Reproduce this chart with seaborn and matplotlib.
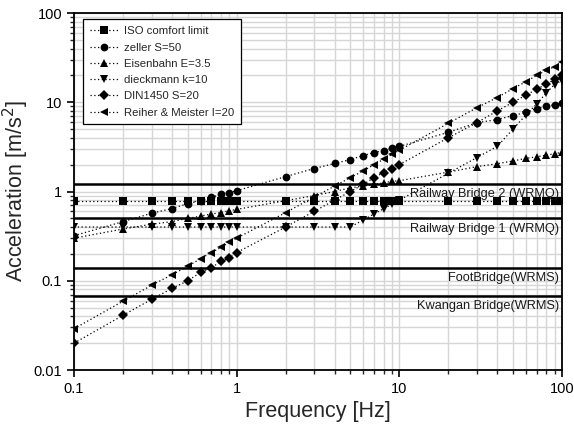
import numpy as np
import pandas as pd
import matplotlib
matplotlib.use("Agg")
import matplotlib.pyplot as plt
import matplotlib.ticker as mticker
import seaborn as sns

# frequencies [Hz]
freq = [0.1, 0.2, 0.3, 0.4, 0.5, 0.6, 0.7, 0.8, 0.9,
        1, 2, 3, 4, 5, 6, 7, 8, 9,
        10, 20, 30, 40, 50, 60, 70, 80, 90, 100]

# acceleration [m/s^2]
iso_comfort = [0.79] * 28
zeller = [0.32, 0.46, 0.57, 0.645, 0.73, 0.79, 0.86, 0.93, 0.97,
          1.02, 1.47, 1.81, 2.06, 2.28, 2.53, 2.73, 2.88, 3.04,
          3.2, 4.6, 5.9, 6.4, 7.1, 7.7, 8.5, 9.0, 9.4, 9.9]
eisenbahn = [0.30, 0.38, 0.43, 0.46, 0.50, 0.53, 0.56, 0.58, 0.61,
             0.63, 0.79, 0.90, 1.0, 1.1, 1.15, 1.2, 1.25, 1.3,
             1.32, 1.65, 1.9, 2.05, 2.2, 2.35, 2.45, 2.55, 2.65, 2.75]
dieckmann = [0.4, 0.4, 0.4, 0.4, 0.4, 0.4, 0.4, 0.4, 0.4,
             0.4, 0.4, 0.4, 0.4, 0.4, 0.48, 0.56, 0.64, 0.72,
             0.8, 1.6, 2.4, 3.2, 5.0, 7.2, 9.6, 12.7, 15.8, 17.5]
din1450 = [0.02, 0.041, 0.062, 0.082, 0.10, 0.124, 0.14, 0.165, 0.18,
           0.207, 0.40, 0.60, 0.80, 1.0, 1.2, 1.43, 1.63, 1.8,
           2.0, 4.0, 5.9, 8.0, 10, 12, 14, 16, 18, 20]
reiher = [0.029, 0.059, 0.089, 0.117, 0.145, 0.177, 0.207, 0.236, 0.27,
          0.30, 0.58, 0.87, 1.15, 1.43, 1.7, 2.0, 2.3, 2.6,
          2.9, 5.8, 8.7, 11.3, 14.2, 17, 20, 22.7, 25, 28.5]

series_names = ["ISO comfort limit", "zeller S=50", "Eisenbahn E=3.5",
                "dieckmann k=10", "DIN1450 S=20", "Reiher & Meister I=20"]
series_values = [iso_comfort, zeller, eisenbahn, dieckmann, din1450, reiher]
series_markers = ["s", "o", "^", "v", "D", "<"]

# bridge reference levels
bridge_names = ["Railway Bridge 2 (WRMQ)", "Railway Bridge 1 (WRMQ)",
                "FootBridge(WRMS)", "Kwangan Bridge(WRMS)"]
bridge_levels = [1.22, 0.5, 0.14, 0.067]

sns.set_style("ticks")
plt.rcParams['font.family'] = ['Liberation Sans', 'DejaVu Sans']

fig = plt.figure(figsize=(5.74, 4.25), dpi=100)
ax = fig.add_axes([0.129, 0.1294, 0.850, 0.840])
ax.set_xscale("log")
ax.set_yscale("log")

for name, vals, mk in zip(series_names, series_values, series_markers):
    df = pd.DataFrame({"Frequency": freq, "Acceleration": vals})
    ms = 4.8 if mk == "D" else 5.6
    sns.lineplot(data=df, x="Frequency", y="Acceleration", ax=ax,
                 color="black", linestyle=(0, (1, 2)), linewidth=0.9,
                 marker=mk, markersize=ms, markeredgewidth=0,
                 label=name, zorder=5, clip_on=True)

for name, lvl in zip(bridge_names, bridge_levels):
    ax.axhline(lvl, color="black", linewidth=1.8, zorder=4)
    ax.annotate(name, xy=(100, lvl), xytext=(-2, -3), textcoords="offset points",
                ha="right", va="top", fontsize=9.2, color="#1a1a1a", zorder=6)

ax.set_xlim(0.1, 100)
ax.set_ylim(0.01, 100)

fmt = mticker.FuncFormatter(lambda v, pos: f"{v:g}")
ax.xaxis.set_major_formatter(fmt)
ax.yaxis.set_major_formatter(fmt)
ax.xaxis.set_minor_formatter(mticker.NullFormatter())
ax.yaxis.set_minor_formatter(mticker.NullFormatter())
ax.xaxis.set_minor_locator(mticker.LogLocator(base=10, subs=np.arange(2, 10)))
ax.yaxis.set_minor_locator(mticker.LogLocator(base=10, subs=np.arange(2, 10)))

ax.grid(which="both", color="#d6d6d6", linewidth=1.0, zorder=0)
ax.set_axisbelow(True)
ax.tick_params(which="major", direction="out", length=5, width=1.2, labelsize=10.5,
               colors="black")
ax.tick_params(which="minor", direction="out", length=3, width=1.0)
for sp in ax.spines.values():
    sp.set_color("black")
    sp.set_linewidth(1.3)

ax.set_xlabel("Frequency [Hz]", fontsize=15.5, labelpad=4)
ax.set_ylabel("Acceleration [m/s$^2$]", fontsize=15.5, labelpad=2)

leg = ax.legend(loc="upper left", bbox_to_anchor=(0.018, 0.982), borderaxespad=0,
                fontsize=8.2, frameon=True, fancybox=False, edgecolor="black",
                framealpha=1, handlelength=2.6, labelspacing=0.55,
                handletextpad=0.4, borderpad=0.6)
leg.get_frame().set_linewidth(0.9)

fig.savefig("out.png", dpi=100)
